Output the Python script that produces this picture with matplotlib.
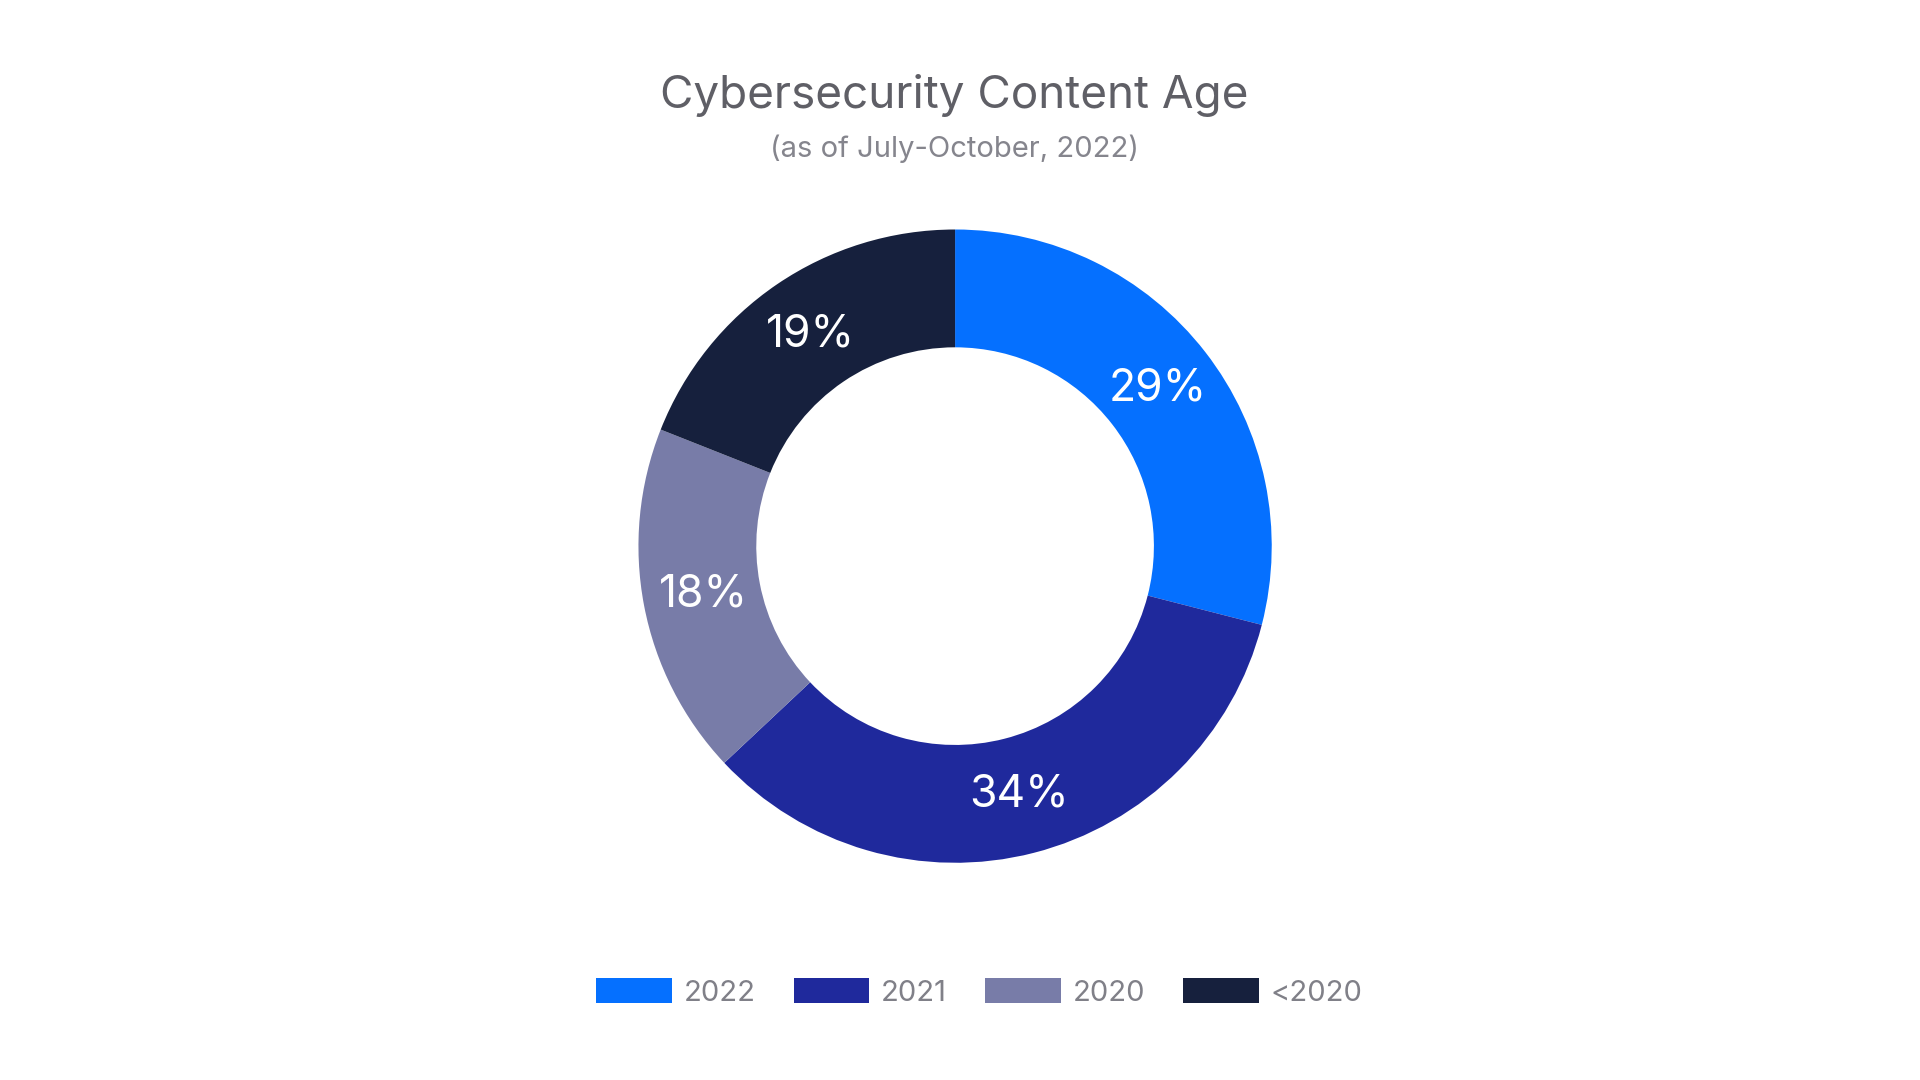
import matplotlib
matplotlib.use("Agg")
import matplotlib.pyplot as plt
from matplotlib.patches import Patch

# ─── Data ────────────────────────────────────────────────────────────────────
labels = ["2022", "2021", "2020", "<2020"]
shares = [29, 34, 18, 19]
colors = ["#0570FF", "#1F299C", "#787CA8", "#16203D"]

plt.rcParams["font.family"] = ["Inter", "DejaVu Sans"]

fig = plt.figure(figsize=(19.2, 10.8), dpi=100)
ax = fig.add_axes([0, 0, 1, 1])
W, H = 1564, 880
ax.set_xlim(0, W)
ax.set_ylim(0, H)
ax.set_aspect("equal")
ax.axis("off")

wedges, _, autotexts = ax.pie(
    shares, colors=colors, startangle=90, counterclock=False,
    center=(778, H - 445), radius=258, autopct="%d%%", pctdistance=0.81,
    wedgeprops=dict(width=96, linewidth=0),
    textprops=dict(color="white", fontsize=32),
)
ax.set_xlim(0, W)
ax.set_ylim(0, H)

fig.text(0.497, 0.912, "Cybersecurity Content Age", ha="center", va="center",
         fontsize=33, color="#5f5f66")
fig.text(0.497, 0.862, "(as of July-October, 2022)", ha="center", va="center",
         fontsize=21, color="#85858d")

handles = [Patch(facecolor=c, edgecolor="none") for c in colors]
fig.legend(handles, labels, loc="center", bbox_to_anchor=(0.51, 0.081), ncol=4,
           frameon=False, fontsize=21, labelcolor="#808088",
           handlelength=2.6, handleheight=0.9, handletextpad=0.4, columnspacing=1.3)

fig.savefig("out.png", dpi=100)
